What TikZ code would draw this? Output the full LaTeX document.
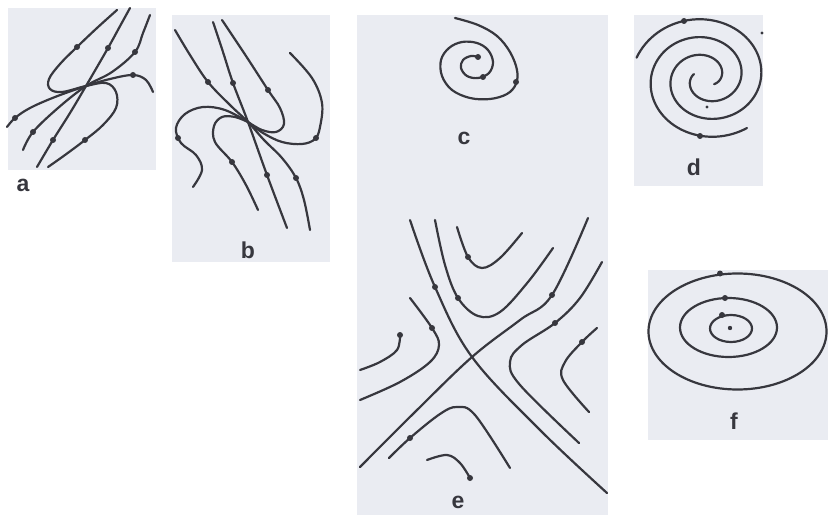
\documentclass[tikz,border=0pt]{standalone}
\usepackage{fontspec}
\newfontfamily\labfont{Liberation Sans}
\definecolor{panelbg}{RGB}{234,236,242}
\definecolor{ink}{RGB}{55,55,62}
\begin{document}
\begin{tikzpicture}[x=1pt,y=-1pt,
  traj/.style={draw=ink,line width=2.2pt,line cap=round},
  panel/.style={fill=panelbg,draw=none},
  lab/.style={text=ink,font=\labfont\fontsize{23}{25}\selectfont\bfseries,inner sep=0pt},
  mk/.style={fill=ink}]
\useasboundingbox (0,0) rectangle (828,516);
\fill[white] (0,0) rectangle (828,516);
% panels
\fill[panel] (8,8) rectangle (156,170);
\fill[panel] (172,15) rectangle (330,262);
\fill[panel] (357,15) rectangle (608,515);
\fill[panel] (634,15) rectangle (763,186);
\fill[panel] (648,270) rectangle (828,440);
% ---------- panel a
\draw[traj] plot[smooth,tension=0.6] coordinates {(117,10) (97,28) (77,47) (60,64) (49,79) (50,89) (62,92) (86,86) (106,83) (116,92) (116,108) (103,125) (85,140) (65,155) (48,167)};
\draw[traj] plot[smooth,tension=0.6] coordinates {(130,8) (119,28) (108,48) (86,86) (70,113) (53,140) (37,167)};
\draw[traj] plot[smooth,tension=0.6] coordinates {(150,15) (143,33) (135,52) (112,72) (86,86) (58,108) (33,132) (23,150)};
\draw[traj] plot[smooth,tension=0.6] coordinates {(153,92) (146,80) (133,75) (110,79) (86,86) (55,97) (30,108) (15,118) (7,127)};
\foreach \p in {(77,47),(108,48),(135,52),(133,75),(15,118),(33,132),(53,140),(85,140)} \fill[mk] \p circle (3);
\node[lab] (la) at (23,185) {a};
% ---------- panel b
\draw[traj] plot[smooth,tension=0.6] coordinates {(213,22) (223,52) (233,83) (248,122) (267,175) (287,228)};
\draw[traj] plot[smooth,tension=0.6] coordinates {(175,30) (190,55) (208,82) (230,105) (248,122) (264,140) (282,158) (296,178) (304,200) (310,230)};
\draw[traj] plot[smooth,tension=0.6] coordinates {(222,20) (246,56) (268,90) (280,108) (284,124) (276,132) (262,130) (248,122)};
\draw[traj] plot[smooth,tension=0.6] coordinates {(290,53) (312,78) (322,103) (320,127) (315,139) (302,144) (282,142) (263,133) (248,122)};
\draw[traj] plot[smooth,tension=0.6] coordinates {(193,187) (202,170) (196,155) (181,143) (176,128) (185,114) (203,107) (225,110) (248,122)};
\draw[traj] plot[smooth,tension=0.6] coordinates {(248,122) (235,117) (222,117) (214,126) (215,142) (232,162) (246,185) (258,210)};
\foreach \p in {(208,82),(233,83),(268,90),(316,138),(178,138),(232,162),(267,175),(296,178)} \fill[mk] \p circle (3);
\node[lab] (lb) at (248,250) {b};
% ---------- panel c
\draw[traj] plot[smooth,tension=0.6] coordinates {(455,18) (478,25) (497,36) (510,52) (517,70) (516,84) (507,94) (490,99) (470,98) (452,90) (442,76) (441,60) (449,48) (462,42) (477,43) (488,50) (493,62) (489,73) (478,78) (467,76) (461,68) (463,60) (471,56) (478,57)};
\foreach \p in {(516,82),(478,57),(483,77)} \fill[mk] \p circle (3);
\node[lab] (lc) at (464,138) {c};
% ---------- panel d
\draw[traj] plot[domain=198:760,samples=160,smooth,variable=\t] ({706+(73-(\t-198)/9)*cos(\t)},{78+0.9*(73-(\t-198)/9)*sin(\t)});
\draw[traj] plot[domain=53.6:560,samples=150,smooth,variable=\t] ({706+(73-(\t-18)/9)*cos(\t)},{78+0.9*(73-(\t-18)/9)*sin(\t)});
\foreach \p in {(684,21),(700,136)} \fill[mk] \p circle (3);
\foreach \p in {(707,107),(762,33)} \fill[mk] \p circle (1.6);
\node[lab] (ld) at (694,167) {d};
% ---------- panel e
\draw[traj] plot[smooth,tension=0.6] coordinates {(410,220) (435,287) (472,357) (540,430) (607,493)};
\draw[traj] plot[smooth,tension=0.6] coordinates {(360,467) (415,412) (472,357) (520,320) (552,295) (588,218)};
\draw[traj] plot[smooth,tension=0.6] coordinates {(435,220) (445,265) (458,298) (478,316) (500,312) (528,282) (553,248)};
\draw[traj] plot[smooth,tension=0.6] coordinates {(457,227) (468,257) (482,268) (500,258) (522,233)};
\draw[traj] plot[smooth,tension=0.6] coordinates {(602,262) (580,298) (555,323) (522,345) (510,362) (520,385) (579,443)};
\draw[traj] plot[smooth,tension=0.6] coordinates {(597,328) (582,342) (565,362) (563,380) (589,412)};
\draw[traj] plot[smooth,tension=0.6] coordinates {(410,298) (432,328) (439,345) (430,362) (400,382) (360,400)};
\draw[traj] plot[smooth,tension=0.6] coordinates {(360,370) (380,362) (397,350) (400,335)};
\draw[traj] plot[smooth,tension=0.6] coordinates {(389,458) (410,438) (440,414) (457,407) (475,415) (510,468)};
\draw[traj] plot[smooth,tension=0.6] coordinates {(427,460) (447,455) (460,463) (470,478)};
\foreach \p in {(435,287),(552,295),(458,298),(468,257),(555,323),(582,342),(432,328),(400,335),(410,438),(470,478)} \fill[mk] \p circle (3);
\node[lab] (le) at (458,502) {e};
% ---------- panel f
\draw[traj] (737.5,331.5) ellipse [x radius=89,y radius=58];
\draw[traj] (728.5,327.5) ellipse [x radius=48.5,y radius=29.5];
\draw[traj] (731,328.5) ellipse [x radius=21,y radius=13.5];
\foreach \p in {(720,273.5),(725,298),(722,315)} \fill[mk] \p circle (3);
\fill[mk] (730,328) circle (2.2);
\node[lab] (lf) at (734,421) {f};
\end{tikzpicture}
\end{document}
